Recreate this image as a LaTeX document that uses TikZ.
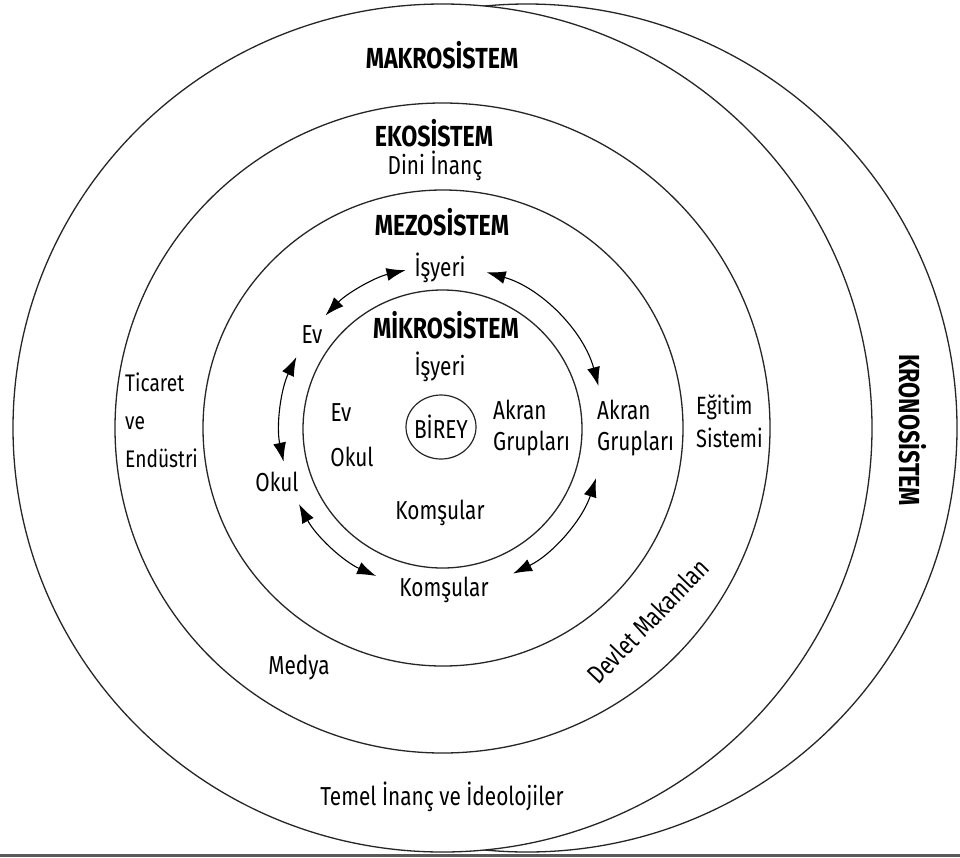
\documentclass[tikz,border=0pt]{standalone}
\usepackage{fontspec}
\setmainfont{Fira Sans}[FakeStretch=0.8]
\usetikzlibrary{arrows.meta,shapes.geometric}
\begin{document}
\begin{tikzpicture}[x=1pt,y=-1pt,
  ring/.style={draw=black!85, line width=1.3pt, fill=white},
  lbl/.style={inner sep=0pt, font=\fontsize{26}{28}\selectfont},
  ttl/.style={inner sep=0pt, font=\fontsize{29}{31}\selectfont\bfseries},
  link/.style={line width=1.1pt, {Latex[length=19pt,width=13pt]}-{Latex[length=19pt,width=13pt]}}]
\useasboundingbox (0,0) rectangle (960,857);
\fill[white] (0,0) rectangle (960,857);
\fill[black!65] (0,853.5) rectangle (960,857);
% rings
\draw[ring] (527,428) ellipse [x radius=430, y radius=424];
\draw[ring] (442.5,428) ellipse [x radius=429.5, y radius=424];
\draw[ring] (442.5,428) ellipse [x radius=327.5, y radius=325];
\draw[ring] (443,428) ellipse [x radius=240, y radius=238];
\draw[ring] (442.5,429) ellipse [x radius=139.5, y radius=139];
\node[ring, ellipse, minimum width=70pt, minimum height=64pt, inner sep=0pt, line width=1.2pt] (birey) at (441,427) {};
\node[lbl] (bireyt) at (441,427) {BİREY};
% titles
\node[ttl] (makro) at (442,55) {MAKROSİSTEM};
\node[ttl] (eko) at (434,133) {EKOSİSTEM};
\node[lbl] (dini) at (435,166) {Dini İnanç};
\node[ttl] (mezo) at (442,222) {MEZOSİSTEM};
\node[ttl] (mikro) at (446,325) {MİKROSİSTEM};
\node[ttl, rotate=-90] (krono) at (913,430) {KRONOSİSTEM};
% mezo labels
\node[lbl] (isyeriO) at (440,268) {İşyeri};
\node[lbl] (evO) at (312,335) {Ev};
\node[lbl] (okulO) at (277,482) {Okul};
\node[lbl] (komO) at (444,590) {Komşular};
\node[lbl, align=left, anchor=west, font=\fontsize{26}{31}\selectfont] (akranO) at (597,428) {Akran\\Grupları};
% mikro labels
\node[lbl] (isyeriI) at (440,367) {İşyeri};
\node[lbl] (evI) at (341,413) {Ev};
\node[lbl] (okulI) at (352,457) {Okul};
\node[lbl] (komI) at (440,513) {Komşular};
\node[lbl, align=left, anchor=west, font=\fontsize{26}{31}\selectfont] (akranI) at (493,428) {Akran\\Grupları};
% exo / macro labels
\node[lbl, align=left, anchor=west, font=\fontsize{24}{38}\selectfont] (ticaret) at (125,420) {Ticaret\\ve\\Endüstri};
\node[lbl, align=left, anchor=west, font=\fontsize{25}{33}\selectfont] (egitim) at (696,421) {Eğitim\\Sistemi};
\node[lbl] (medya) at (299,668) {Medya};
\node[lbl, rotate=46] (devlet) at (648,621) {Devlet Makamlan};
\node[lbl] (temel) at (442,797) {Temel İnanç ve İdeolojiler};
% arrows on a circle of radius 162 around (442,428)
\begin{scope}[shift={(442,428)}]
\coordinate (a1s) at (-136:162); \coordinate (a1e) at (-103:162);
\coordinate (a2s) at (-74:162);  \coordinate (a2e) at (-15:162);
\coordinate (a3s) at (206:162);  \coordinate (a3e) at (168:162);
\coordinate (a4s) at (152:162);  \coordinate (a4e) at (114:162);
\coordinate (a5s) at (64:162);   \coordinate (a5e) at (18:162);
\end{scope}
\draw[link] (a1s) arc[start angle=-136, end angle=-103, radius=162];
\draw[link] (a2s) arc[start angle=-74, end angle=-15, radius=162];
\draw[link] (a3s) arc[start angle=206, end angle=168, radius=162];
\draw[link] (a4s) arc[start angle=152, end angle=114, radius=162];
\draw[link] (a5s) arc[start angle=64, end angle=18, radius=162];
\end{tikzpicture}
\end{document}
